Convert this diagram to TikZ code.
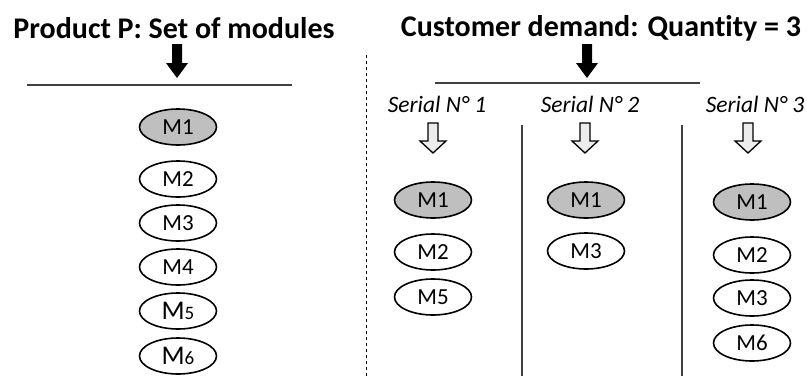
\documentclass[tikz,border=0pt]{standalone}
\usepackage{fontspec}
\setmainfont[Ligatures=NoCommon]{Carlito}
\usetikzlibrary{shapes.geometric}
\tikzset{
  modbox/.style={ellipse,draw,line width=1.6pt,minimum width=77pt,minimum height=36pt,inner sep=0pt,font=\fontsize{23}{23}\selectfont},
  basebox/.style={modbox,fill=gray!50},
  title/.style={font=\fontsize{30}{30}\selectfont\bfseries},
  serial/.style={font=\fontsize{23.5}{23.5}\selectfont\itshape},
}
\begin{document}
\begin{tikzpicture}[x=1pt,y=-1pt]
\useasboundingbox (0,0) rectangle (807,376);
\coordinate (L1) at (27,85);
\coordinate (L2) at (292,85);
\coordinate (R1) at (435,83);
\coordinate (R2) at (700,83);
\coordinate (D1) at (366,55);
\coordinate (D2) at (366,376);
\coordinate (V1) at (522,125);
\coordinate (V2) at (522,376);
\coordinate (W1) at (682,125);
\coordinate (W2) at (682,376);
% titles
\node[title] (TP) at (174,28) {Product P: Set of modules};
\node[title] (TC) at (601,28) {Customer demand: Quantity = 3};
% black arrows
\fill (172,44)--(182,44)--(182,63)--(188,63)--(177,78)--(166,63)--(172,63)--cycle;
\fill (582,44)--(592,44)--(592,63)--(598,63)--(587,78)--(576,63)--(582,63)--cycle;
\draw[line width=1.4pt,black!75] (L1) -- (L2);
\draw[line width=1.4pt,black!75] (R1) -- (R2);
\draw[dashed,line width=0.7pt] (D1) -- (D2);
\draw[line width=1.2pt,black!75] (V1) -- (V2);
\draw[line width=1.2pt,black!75] (W1) -- (W2);
% serial numbers
\node[serial] (S1) at (437,104) {Serial N° 1};
\node[serial] (S2) at (590,104) {Serial N° 2};
\node[serial] (S3) at (755,104) {Serial N° 3};
\draw[fill=gray!15,line width=1.3pt] (428,123)--(438,123)--(438,141)--(446,141)--(433,153)--(420,141)--(428,141)--cycle;
\draw[fill=gray!15,line width=1.3pt] (580,123)--(590,123)--(590,141)--(598,141)--(585,153)--(572,141)--(580,141)--cycle;
\draw[fill=gray!15,line width=1.3pt] (743,123)--(753,123)--(753,141)--(761,141)--(748,153)--(735,141)--(743,141)--cycle;
% product modules
\node[basebox] (P1) at (178,127) {M1};
\node[modbox] (P2) at (178,179) {M2};
\node[modbox] (P3) at (178,223) {M3};
\node[modbox] (P4) at (178,267) {M4};
\node[modbox] (P5) at (178,311) {{\fontsize{27}{27}\selectfont M}{\fontsize{19}{19}\selectfont 5}};
\node[modbox] (P6) at (178,356) {{\fontsize{27}{27}\selectfont M}{\fontsize{19}{19}\selectfont 6}};
% serial 1
\node[basebox] (A1) at (433,200) {M1};
\node[modbox] (A2) at (433,252) {M2};
\node[modbox] (A5) at (433,297) {M5};
% serial 2
\node[basebox] (B1) at (586,200) {M1};
\node[modbox] (B3) at (586,251) {M3};
% serial 3
\node[basebox] (C1) at (752,202) {M1};
\node[modbox] (C2) at (752,255) {M2};
\node[modbox] (C3) at (752,298) {M3};
\node[modbox] (C6) at (752,343) {M6};
\end{tikzpicture}
\end{document}
